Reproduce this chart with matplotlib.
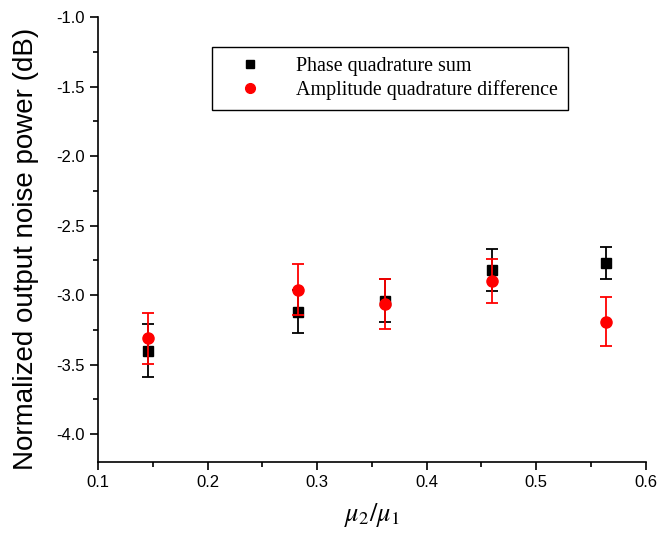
import matplotlib
matplotlib.use("Agg")
import matplotlib.pyplot as plt
from matplotlib.ticker import MultipleLocator
from matplotlib.lines import Line2D

# --- data ---
ratio = [0.146, 0.283, 0.362, 0.460, 0.564]
phase_sum = [-3.40, -3.12, -3.04, -2.82, -2.77]
phase_err = [0.19, 0.155, 0.153, 0.152, 0.115]
amp_diff = [-3.31, -2.96, -3.06, -2.90, -3.19]
amp_err = [0.185, 0.185, 0.18, 0.157, 0.176]

plt.rcParams['mathtext.fontset'] = 'stix'
plt.rcParams['axes.unicode_minus'] = False

fig = plt.figure(figsize=(6.59, 5.36), dpi=100)
ax = fig.add_axes([0.1487, 0.138, 0.8313, 0.830])

ax.errorbar(ratio, phase_sum, yerr=phase_err, fmt='s', color='black',
            ms=7, capsize=4, elinewidth=1.3, capthick=1.3, zorder=3)
ax.errorbar(ratio, amp_diff, yerr=amp_err, fmt='o', color='red',
            ms=8, capsize=4, elinewidth=1.3, capthick=1.3, zorder=4)

ax.set_xlim(0.1, 0.6)
ax.set_ylim(-4.2, -1.0)
ax.xaxis.set_major_locator(MultipleLocator(0.1))
ax.xaxis.set_minor_locator(MultipleLocator(0.05))
ax.yaxis.set_major_locator(MultipleLocator(0.5))
ax.yaxis.set_minor_locator(MultipleLocator(0.25))
ax.tick_params(which='major', direction='out', length=6, width=1.2,
               labelsize=12, colors='black')
ax.tick_params(which='minor', direction='out', length=3.5, width=1.2)
for lab in ax.get_xticklabels() + ax.get_yticklabels():
    lab.set_fontfamily('Liberation Sans')

ax.spines['top'].set_visible(False)
ax.spines['right'].set_visible(False)
ax.spines['left'].set_linewidth(1.2)
ax.spines['bottom'].set_linewidth(1.2)

ax.set_ylabel('Normalized output noise power (dB)', fontsize=20,
              fontfamily='Liberation Sans')
ax.yaxis.set_label_coords(-0.107, 0.48)
ax.set_xlabel(r'$\mu_2/\mu_1$', fontsize=19, labelpad=8)

handles = [Line2D([], [], ls='none', marker='s', color='black', ms=6),
           Line2D([], [], ls='none', marker='o', color='red', ms=7)]
labels = ['Phase quadrature sum', 'Amplitude quadrature difference']
leg = ax.legend(handles, labels, loc='upper left', bbox_to_anchor=(0.19, 0.955),
                prop={'family': 'Liberation Serif', 'size': 14.4},
                fancybox=False, edgecolor='black', framealpha=1,
                handletextpad=0.9, borderpad=0.5, labelspacing=0.18,
                handlelength=2.8)
leg.get_frame().set_linewidth(1.0)

fig.savefig('out.png', dpi=100)
